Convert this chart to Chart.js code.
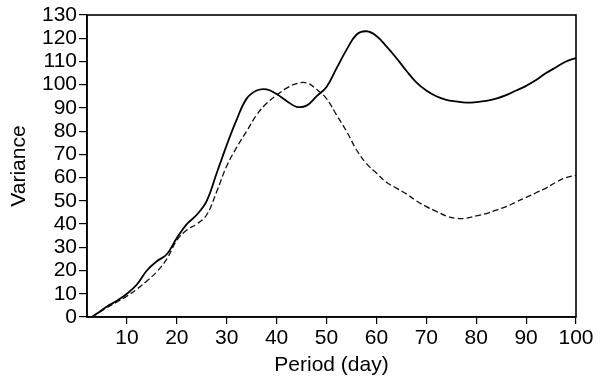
<!DOCTYPE html>
<html>
<head>
<meta charset="utf-8">
<script src="https://cdn.jsdelivr.net/npm/chart.js@4"></script>
<style>
  html, body { margin: 0; padding: 0; background: #fff; }
  #grafico { display: block; }
</style>
</head>
<body>
<canvas id="grafico" width="605" height="379"></canvas>
<script>
// Periodo (dias) y varianzas
const periodos = [3, 4, 6, 8, 10, 12, 14, 16, 18, 20, 22, 24, 26, 28, 30, 32, 34, 36, 38, 40,
    42, 44, 46, 48, 50, 52, 54, 56, 58, 60, 62, 64, 66, 68, 70, 72, 74, 76, 78, 80,
    82, 84, 86, 88, 90, 92, 94, 96, 98, 100];

const varianzaSolida = [0, 1.5, 4.5, 7, 10, 14, 20, 24, 27, 34, 40, 44, 50, 62, 74, 85, 94, 97.5, 98, 96,
    93, 90.5, 91, 95, 99, 107, 115, 121.5, 123, 121, 116.5, 111.5, 106, 101, 97.5, 95, 93.5, 92.8, 92.3, 92.5,
    93, 94, 95.5, 97.5, 99.5, 102, 105, 107.5, 110, 111.5];

const varianzaDiscontinua = [0, 1.5, 4, 6.5, 9, 12, 15.5, 19.5, 25, 33, 37.5, 40, 44, 54, 65, 73, 80, 87, 92, 95.5,
    98.5, 100.5, 100.8, 98, 94, 87, 80, 72, 66, 62, 58, 55.5, 53, 50, 47.5, 45.5, 43.5, 42.5, 42.5, 43.5,
    44.5, 46, 47.5, 49.5, 51.5, 53.5, 55.5, 58, 60, 61];

const ticksX = [10, 20, 30, 40, 50, 60, 70, 80, 90, 100];
const ticksY = [0, 10, 20, 30, 40, 50, 60, 70, 80, 90, 100, 110, 120, 130];

const fuente = { family: 'Liberation Sans, Arial, sans-serif', size: 21 };

// marco completo alrededor del area del grafico
const marco = {
    id: 'marco',
    afterDraw(chart) {
        const { ctx, chartArea } = chart;
        ctx.save();
        ctx.strokeStyle = '#000';
        ctx.lineWidth = 1.6;
        ctx.strokeRect(chartArea.left, chartArea.top, chartArea.right - chartArea.left, chartArea.bottom - chartArea.top);
        ctx.restore();
    }
};

const ctx = document.getElementById('grafico').getContext('2d');

new Chart(ctx, {
    type: 'line',
    data: {
        datasets: [{
            label: 'solida',
            data: periodos.map((p, i) => ({ x: p, y: varianzaSolida[i] })),
            borderColor: '#000',
            borderWidth: 1.8,
            pointRadius: 0,
            tension: 0.4,
            fill: false
        }, {
            label: 'discontinua',
            data: periodos.map((p, i) => ({ x: p, y: varianzaDiscontinua[i] })),
            borderColor: '#111',
            borderWidth: 1.3,
            borderDash: [6, 3],
            pointRadius: 0,
            tension: 0.4,
            fill: false
        }]
    },
    options: {
        responsive: false,
        animation: false,
        layout: { padding: { top: 15, right: 29, left: 7, bottom: 0 } },
        plugins: { legend: { display: false }, tooltip: { enabled: false } },
        scales: {
            x: {
                type: 'linear',
                min: 2,
                max: 100,
                afterBuildTicks: s => { s.ticks = ticksX.map(v => ({ value: v })); },
                afterFit: s => { s.height = 62; },
                ticks: { color: '#000', font: fuente, padding: 2, maxRotation: 0, autoSkip: false },
                grid: { drawOnChartArea: false, drawTicks: true, tickLength: 7, color: '#000', lineWidth: 1.2 },
                border: { display: true, color: '#000', width: 1.6 },
                title: { display: true, text: 'Period (day)', color: '#000', font: fuente, padding: { top: 0, bottom: 1 } }
            },
            y: {
                min: 0,
                max: 130,
                afterBuildTicks: s => { s.ticks = ticksY.map(v => ({ value: v })); },
                afterFit: s => { s.width = 80; },
                ticks: { color: '#000', font: fuente, padding: 2, autoSkip: false },
                grid: { drawOnChartArea: false, drawTicks: true, tickLength: 8, color: '#000', lineWidth: 1.2 },
                border: { display: true, color: '#000', width: 1.6 },
                title: { display: true, text: 'Variance', color: '#000', font: fuente, padding: { top: 0, bottom: 0 } }
            }
        }
    },
    plugins: [marco]
});
</script>
</body>
</html>
